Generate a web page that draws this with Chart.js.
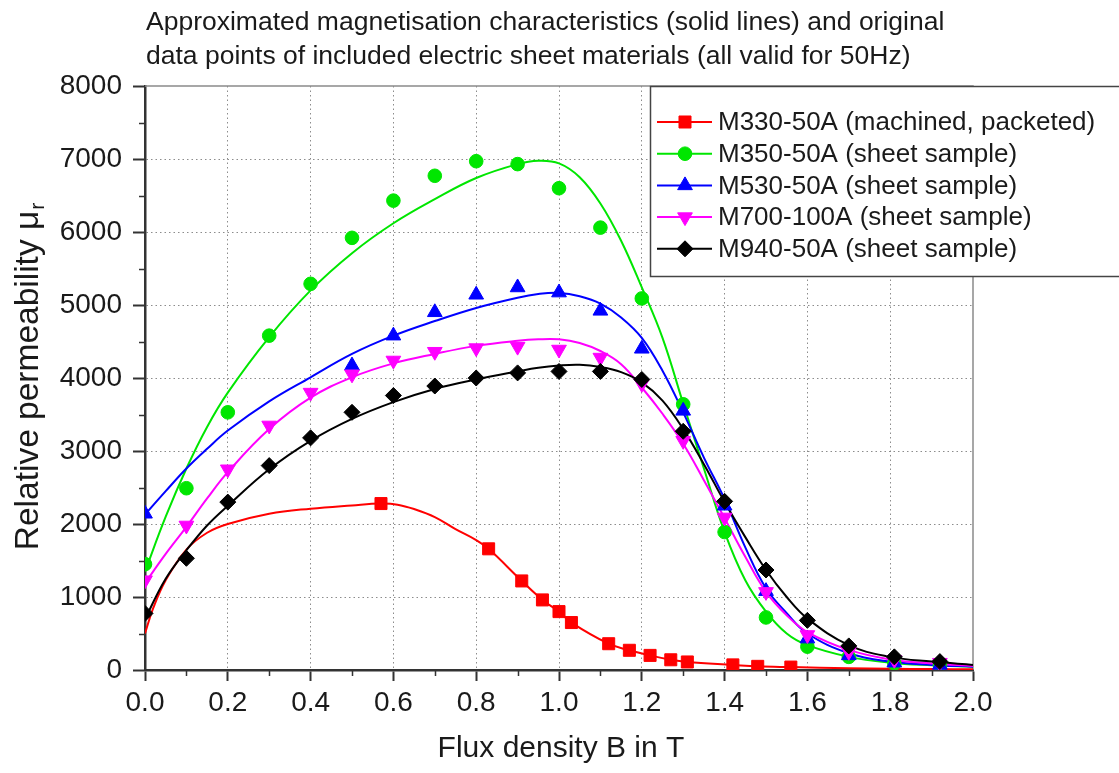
<!DOCTYPE html>
<html><head><meta charset="utf-8">
<script src="https://cdn.jsdelivr.net/npm/chart.js@4/dist/chart.umd.min.js"></script>
<style>html,body{margin:0;padding:0;background:#fff;}canvas{display:block;}</style>
</head><body>
<canvas id="c" width="1119" height="773"></canvas>
<script>
// ---------- texts ----------
const titleLines = [
  'Approximated magnetisation characteristics (solid lines) and original',
  'data points of included electric sheet materials (all valid for 50Hz)'
];
const xAxisTitle = 'Flux density B in T';
const yAxisTitle = 'Relative permeability \u03bc';
const yAxisTitleSub = 'r';
const seriesNames = [
  'M330-50A (machined, packeted)',
  'M350-50A (sheet sample)',
  'M530-50A (sheet sample)',
  'M700-100A (sheet sample)',
  'M940-50A (sheet sample)'
];
const seriesColors = ['#ff0000', '#00e600', '#0000ff', '#ff00ff', '#000000'];
const seriesMarkers = ['rect', 'circle', 'triangle', 'triangleDown', 'rectRot'];

// ---------- ticks ----------
const xMinorTicks = [0.1, 0.3, 0.5, 0.7, 0.9, 1.1, 1.3, 1.5, 1.7, 1.9];
const yMinorTicks = [500, 1500, 2500, 3500, 4500, 5500, 6500, 7500];

// ---------- measured data points ----------
const m330B  = [0.57, 0.83, 0.91, 0.96, 1.0, 1.03, 1.12, 1.17, 1.22, 1.27, 1.31, 1.42, 1.48, 1.56];
const m330Mu = [2280, 1660, 1220, 960, 800, 650, 360, 270, 200, 140, 110, 70, 50, 40];
const sheetB = [0, 0.1, 0.2, 0.3, 0.4, 0.5, 0.6, 0.7, 0.8, 0.9, 1.0, 1.1, 1.2, 1.3, 1.4, 1.5, 1.6, 1.7, 1.81, 1.92];
const m350Mu = [1450, 2490, 3530, 4580, 5290, 5920, 6430, 6770, 6970, 6930, 6600, 6060, 5090, 3640, 1890, 720, 320, 180, 90, 70];
const m530B  = [0, 0.5, 0.6, 0.7, 0.8, 0.9, 1.0, 1.1, 1.2, 1.3, 1.4, 1.5, 1.6, 1.7, 1.81, 1.92];
const m530Mu = [2140, 4170, 4580, 4900, 5140, 5240, 5170, 4920, 4400, 3550, 2250, 1080, 430, 200, 100, 70];
const m700Mu = [1230, 1980, 2750, 3350, 3800, 4050, 4240, 4360, 4410, 4430, 4390, 4280, 3920, 3140, 2090, 1070, 480, 250, 140, 100];
const m940Mu = [775, 1530, 2300, 2800, 3180, 3530, 3760, 3890, 4000, 4070, 4090, 4090, 3980, 3270, 2310, 1370, 680, 330, 180, 115];

// ---------- approximated characteristics (solid lines) ----------
const fitB = [0, 0.05, 0.1, 0.15, 0.2, 0.3, 0.4, 0.5, 0.6, 0.7, 0.8, 0.9, 0.95, 1.0, 1.05, 1.1, 1.15, 1.2, 1.25, 1.3, 1.35, 1.4, 1.45, 1.5, 1.55, 1.6, 1.7, 1.8, 1.9, 2.0];
const m350Fit = [1350, 2100, 2760, 3330, 3800, 4560, 5200, 5710, 6120, 6450, 6740, 6930, 6975, 6940, 6750, 6390, 5880, 5240, 4550, 3650, 2760, 1890, 1230, 800, 500, 340, 180, 100, 65, 45];
const m530Fit = [2130, 2450, 2760, 3030, 3280, 3680, 4010, 4330, 4580, 4780, 4960, 5100, 5150, 5165, 5120, 5020, 4830, 4550, 4100, 3530, 2910, 2340, 1680, 1120, 780, 500, 230, 115, 70, 45];
const m700Fit = [1190, 1590, 1960, 2350, 2710, 3300, 3730, 4010, 4200, 4330, 4440, 4510, 4530, 4530, 4480, 4370, 4190, 3870, 3510, 3100, 2600, 2080, 1550, 1070, 750, 520, 275, 145, 90, 55];
const m940Fit = [700, 1250, 1640, 1980, 2250, 2750, 3140, 3440, 3670, 3850, 3980, 4090, 4140, 4170, 4180, 4150, 4080, 3940, 3690, 3300, 2820, 2300, 1820, 1370, 1000, 705, 340, 180, 115, 70];
const m330FitB  = [0, 0.02, 0.05, 0.1, 0.15, 0.2, 0.3, 0.4, 0.5, 0.57, 0.61, 0.65, 0.7, 0.75, 0.8, 0.83, 0.91, 0.96, 1.0, 1.03, 1.12, 1.17, 1.22, 1.27, 1.31, 1.42, 1.48, 1.56, 1.7, 1.8, 1.9, 2.0];
const m330FitMu = [500, 850, 1230, 1650, 1880, 2000, 2140, 2210, 2255, 2280, 2265, 2205, 2095, 1930, 1780, 1660, 1220, 960, 800, 650, 360, 270, 200, 140, 110, 70, 50, 40, 25, 18, 12, 10];

// ---------- build datasets ----------
const zip = (xs, ys) => xs.map((x, i) => ({x: x, y: ys[i]}));
const fitData = [zip(m330FitB, m330FitMu), zip(fitB, m350Fit), zip(fitB, m530Fit), zip(fitB, m700Fit), zip(fitB, m940Fit)];
const ptData  = [zip(m330B, m330Mu), zip(sheetB, m350Mu), zip(m530B, m530Mu), zip(sheetB, m700Mu), zip(sheetB, m940Mu)];
const markerStyle = {
  rect:         {pointStyle: 'rect', radius: 8.5, rotation: 0},
  circle:       {pointStyle: 'circle', radius: 6.8, rotation: 0},
  triangle:     {pointStyle: 'triangle', radius: 8.5, rotation: 0},
  triangleDown: {pointStyle: 'triangle', radius: 8.5, rotation: 180},
  rectRot:      {pointStyle: 'rectRot', radius: 8, rotation: 0}
};
const datasets = [];
for (let i = 0; i < seriesNames.length; i++) {
  const ms = markerStyle[seriesMarkers[i]];
  datasets.push({
    label: seriesNames[i] + ' points', data: ptData[i], showLine: false,
    pointStyle: ms.pointStyle, rotation: ms.rotation, pointRadius: ms.radius,
    pointBackgroundColor: seriesColors[i], pointBorderColor: seriesColors[i], pointBorderWidth: 1,
    order: 5 - i
  });
  datasets.push({
    label: seriesNames[i], data: fitData[i], showLine: true, pointRadius: 0,
    borderColor: seriesColors[i], borderWidth: 2, fill: false,
    tension: 0.4, order: 15 - i
  });
}

const FONT = '"Liberation Sans", Arial, sans-serif';
const TEXT = '#1a1a1a';

function drawMarker(ctx, kind, x, y, color) {
  const ms = markerStyle[kind];
  ctx.save();
  ctx.fillStyle = color; ctx.strokeStyle = color; ctx.lineWidth = 1;
  ctx.beginPath();
  const r = ms.radius;
  if (ms.pointStyle === 'circle') { ctx.arc(x, y, r, 0, Math.PI * 2); }
  else if (ms.pointStyle === 'rect') { const s = r * Math.SQRT1_2; ctx.rect(x - s, y - s, 2 * s, 2 * s); }
  else if (ms.pointStyle === 'rectRot') { ctx.moveTo(x, y - r); ctx.lineTo(x + r, y); ctx.lineTo(x, y + r); ctx.lineTo(x - r, y); ctx.closePath(); }
  else {
    let rad = ms.rotation * Math.PI / 180;
    ctx.moveTo(x + Math.sin(rad) * r, y - Math.cos(rad) * r);
    rad += 2 * Math.PI / 3; ctx.lineTo(x + Math.sin(rad) * r, y - Math.cos(rad) * r);
    rad += 2 * Math.PI / 3; ctx.lineTo(x + Math.sin(rad) * r, y - Math.cos(rad) * r);
    ctx.closePath();
  }
  ctx.fill(); ctx.stroke();
  ctx.restore();
}

const decorPlugin = {
  id: 'decor',
  beforeDraw(chart) {
    const ctx = chart.ctx;
    ctx.save(); ctx.fillStyle = '#fff'; ctx.fillRect(0, 0, chart.width, chart.height); ctx.restore();
  },
  beforeDatasetsDraw(chart) {
    const ctx = chart.ctx, a = chart.chartArea;
    ctx.save();
    ctx.strokeStyle = '#8a8a8a'; ctx.lineWidth = 1.5;
    ctx.beginPath();
    ctx.moveTo(a.left, a.top); ctx.lineTo(a.right, a.top); ctx.lineTo(a.right, a.bottom);
    ctx.stroke();
    ctx.restore();
  },
  afterDraw(chart) {
    const ctx = chart.ctx, a = chart.chartArea;
    const xs = chart.scales.x, ys = chart.scales.y;
    ctx.save();
    // minor ticks
    ctx.strokeStyle = '#333'; ctx.lineWidth = 1.5;
    ctx.beginPath();
    xMinorTicks.forEach(v => { const p = Math.round(xs.getPixelForValue(v)) + 0.5; ctx.moveTo(p, a.bottom); ctx.lineTo(p, a.bottom + 6); });
    yMinorTicks.forEach(v => { const p = Math.round(ys.getPixelForValue(v)) + 0.5; ctx.moveTo(a.left, p); ctx.lineTo(a.left - 6, p); });
    ctx.stroke();
    // title
    ctx.fillStyle = TEXT; ctx.textAlign = 'left'; ctx.textBaseline = 'alphabetic';
    ctx.font = '26.5px ' + FONT;
    ctx.fillText(titleLines[0], 146, 30);
    ctx.fillText(titleLines[1], 146, 64);
    // x axis title
    ctx.font = '30px ' + FONT; ctx.textAlign = 'center';
    ctx.fillText(xAxisTitle, (a.left + a.right) / 2 + 2, 757);
    // y axis title with subscript
    ctx.save();
    ctx.translate(38, 377); ctx.rotate(-Math.PI / 2);
    ctx.font = '33.5px ' + FONT;
    const w1 = ctx.measureText(yAxisTitle).width;
    ctx.font = '21px ' + FONT;
    const w2 = ctx.measureText(yAxisTitleSub).width;
    const start = -(w1 + w2) / 2;
    ctx.textAlign = 'left';
    ctx.font = '33.5px ' + FONT;
    ctx.fillText(yAxisTitle, start, 0);
    ctx.font = '21px ' + FONT;
    ctx.fillText(yAxisTitleSub, start + w1 + 1, 6);
    ctx.restore();
    // legend
    const lx = 650, ly = 86, lw = 480, lh = 190;
    ctx.fillStyle = '#fff'; ctx.fillRect(lx, ly, lw, lh);
    ctx.strokeStyle = '#444'; ctx.lineWidth = 1.5; ctx.strokeRect(lx + 0.5, ly + 0.5, lw, lh);
    ctx.font = '26px ' + FONT; ctx.textAlign = 'left'; ctx.textBaseline = 'middle';
    for (let i = 0; i < seriesNames.length; i++) {
      const y = 122 + i * 31.7;
      ctx.strokeStyle = seriesColors[i]; ctx.lineWidth = 2;
      ctx.beginPath(); ctx.moveTo(657, y); ctx.lineTo(712, y); ctx.stroke();
      drawMarker(ctx, seriesMarkers[i], 685, y, seriesColors[i]);
      ctx.fillStyle = TEXT;
      ctx.fillText(seriesNames[i], 718, y + 1);
    }
    ctx.restore();
  }
};

const edge = (c, max) => (c.tick && (c.tick.value <= 0 || c.tick.value >= max - 1e-9)) ? 'rgba(0,0,0,0)' : '#8c8c8c';

new Chart(document.getElementById('c'), {
  type: 'scatter',
  data: {datasets: datasets},
  options: {
    responsive: false, animation: false, devicePixelRatio: 1, events: [],
    layout: {padding: {left: 0, right: 146, top: 86, bottom: 0}},
    plugins: {legend: {display: false}, tooltip: {enabled: false}, title: {display: false}},
    scales: {
      x: {
        type: 'linear', min: 0, max: 2,
        ticks: {stepSize: 0.2, autoSkip: false, maxRotation: 0, padding: 5, color: TEXT,
                font: {size: 28, family: FONT}, callback: v => v.toFixed(1)},
        grid: {color: c => edge(c, 2), lineWidth: 1, tickLength: 11, tickWidth: 2, tickColor: '#333'},
        border: {color: '#333', width: 2.5, dash: [1.5, 3]},
        afterFit: s => { s.height = 103; }
      },
      y: {
        type: 'linear', min: 0, max: 8000,
        ticks: {stepSize: 1000, padding: 11, color: TEXT, font: {size: 28, family: FONT}, callback: v => String(v)},
        grid: {color: c => edge(c, 8000), lineWidth: 1, tickLength: 12, tickWidth: 2, tickColor: '#333'},
        border: {color: '#333', width: 2.5, dash: [1.5, 3]},
        afterFit: s => { s.width = 145; }
      }
    }
  },
  plugins: [decorPlugin]
});
</script>
</body></html>
